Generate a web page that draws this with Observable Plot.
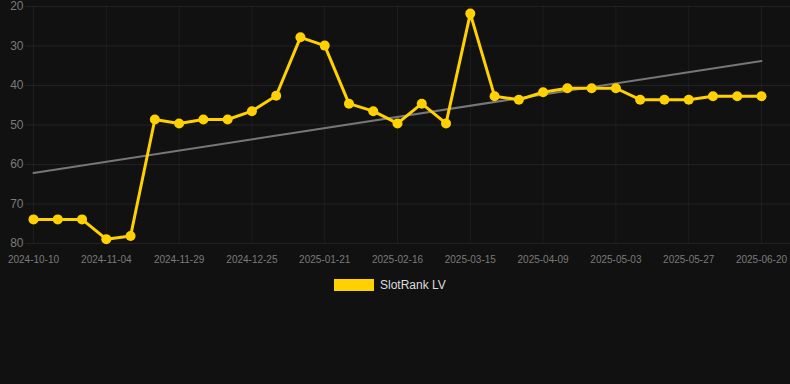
<!DOCTYPE html>
<html>
<head>
<meta charset="utf-8">
<script src="https://cdn.jsdelivr.net/npm/d3@7"></script>
<script src="https://cdn.jsdelivr.net/npm/@observablehq/plot@0.6"></script>
<style>
  html, body { margin: 0; padding: 0; background: #111111; width: 790px; height: 384px; overflow: hidden; }
  #chart { position: relative; width: 790px; height: 384px; font-family: "Liberation Sans", Arial, sans-serif; }
  #legend { position: absolute; left: 334px; top: 278px; display: flex; align-items: center; gap: 6px; color: #dddddd; font-size: 12px; }
  #legend .sw { width: 40px; height: 12px; background: #FFD100; }
</style>
</head>
<body>
<div id="chart"></div>
<script>
const dates = [
  "2024-10-10","2024-10-18","2024-10-27","2024-11-04","2024-11-12","2024-11-20",
  "2024-11-29","2024-12-07","2024-12-16","2024-12-25","2025-01-03","2025-01-12",
  "2025-01-21","2025-01-30","2025-02-07","2025-02-16","2025-02-25","2025-03-06",
  "2025-03-15","2025-03-23","2025-04-01","2025-04-09","2025-04-17","2025-04-25",
  "2025-05-03","2025-05-11","2025-05-19","2025-05-27","2025-06-04","2025-06-12",
  "2025-06-20"
];
const ranks = [
  73.9, 73.9, 73.9, 78.9, 78.1, 48.6,
  49.6, 48.6, 48.6, 46.5, 42.6, 27.8,
  29.9, 44.6, 46.5, 49.6, 44.6, 49.6,
  21.8, 42.7, 43.6, 41.7, 40.7, 40.7,
  40.7, 43.6, 43.6, 43.6, 42.7, 42.7,
  42.7
];
const tickDates = ["2024-10-10","2024-11-04","2024-11-29","2024-12-25","2025-01-21","2025-02-16","2025-03-15","2025-04-09","2025-05-03","2025-05-27","2025-06-20"];
const yTicks = [20, 30, 40, 50, 60, 70, 80];
const seriesName = "SlotRank LV";

const data = dates.map((d, i) => ({date: d, rank: ranks[i]}));

// least-squares trend over the point index
const n = ranks.length;
const mx = d3.mean(ranks, (_, i) => i);
const my = d3.mean(ranks);
const sxy = d3.sum(ranks, (v, i) => (i - mx) * (v - my));
const sxx = d3.sum(ranks, (_, i) => (i - mx) ** 2);
const slope = sxy / sxx;
const icpt = my - slope * mx;
const trend = [
  {date: dates[0], rank: icpt},
  {date: dates[n - 1], rank: icpt + slope * (n - 1)}
];

const chart = Plot.plot({
  width: 790,
  height: 270,
  marginTop: 6,
  marginBottom: 27,
  marginLeft: 25,
  marginRight: 0,
  style: {background: "#111111", color: "#888888", fontFamily: "Liberation Sans, Arial, sans-serif", overflow: "visible"},
  x: {type: "point", domain: dates, padding: 0, round: false, insetLeft: 8, insetRight: 29, label: null},
  y: {domain: [20, 80], reverse: true, label: null},
  marks: [
    Plot.gridY(yTicks, {stroke: "#ffffff", strokeOpacity: 0.07, strokeWidth: 1}),
    Plot.gridX(tickDates, {stroke: "#ffffff", strokeOpacity: 0.05, strokeWidth: 1}),
    Plot.axisY(yTicks, {tickSize: 0, tickPadding: 2, fontSize: 12, fill: "#7a7a7a", label: null}),
    Plot.axisX(tickDates, {tickSize: 0, tickPadding: 12, fontSize: 10, fill: "#7a7a7a", label: null}),
    Plot.line(trend, {x: "date", y: "rank", stroke: "#777777", strokeWidth: 2}),
    Plot.line(data, {x: "date", y: "rank", stroke: "#FFD100", strokeWidth: 3}),
    Plot.dot(data, {x: "date", y: "rank", r: 5, fill: "#FFD100"})
  ]
});

const root = document.getElementById("chart");
root.appendChild(chart);
const legend = document.createElement("div");
legend.id = "legend";
legend.innerHTML = `<div class="sw"></div><span></span>`;
legend.querySelector("span").textContent = seriesName;
root.appendChild(legend);
</script>
</body>
</html>
